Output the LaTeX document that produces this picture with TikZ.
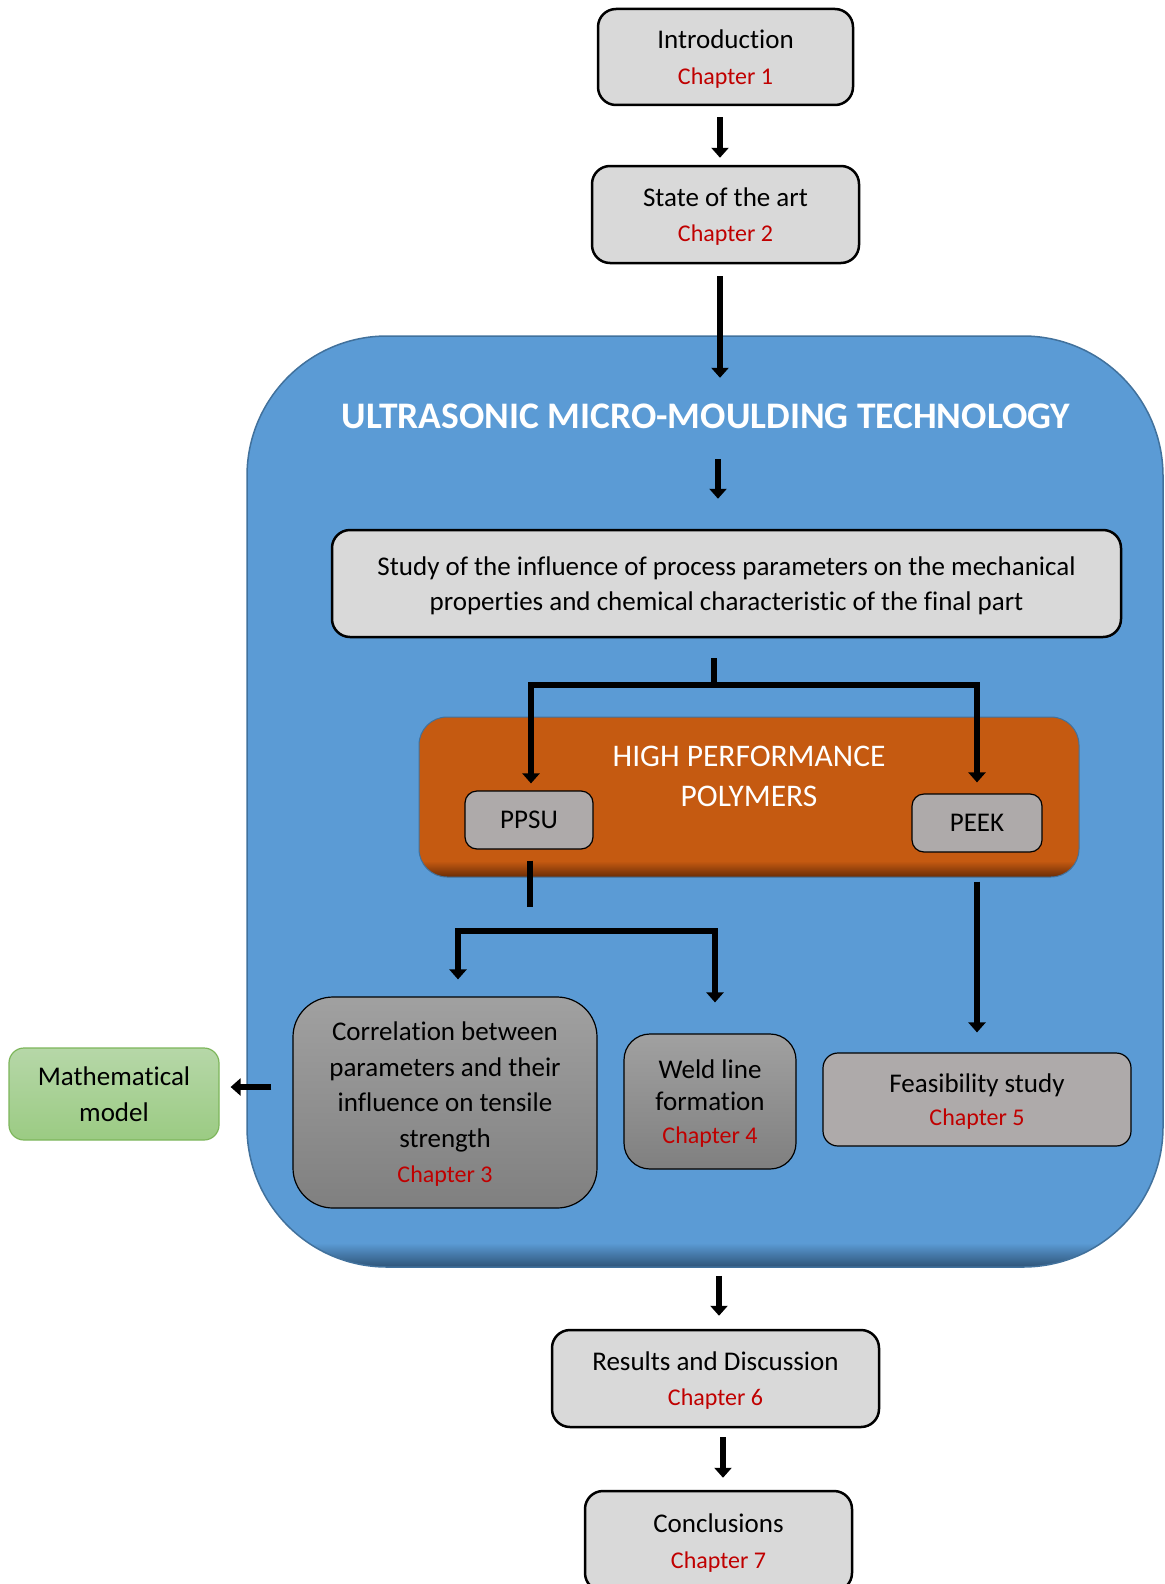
\documentclass[tikz,border=0pt]{standalone}
\usepackage{fontspec}
\setmainfont{Carlito}[Ligatures=NoCommon]
\usepackage{tikz}
\usetikzlibrary{arrows.meta,positioning,calc}
\usepackage{xcolor}
\definecolor{chapred}{HTML}{C00000}
\definecolor{boxgray}{HTML}{D9D9D9}
\definecolor{polygray}{HTML}{AEAAAA}
\definecolor{umtblue}{HTML}{5B9BD5}
\definecolor{umtedge}{HTML}{41719C}
\definecolor{umtdark}{HTML}{2E5478}
\definecolor{hpporange}{HTML}{C55A11}
\definecolor{hppdark}{HTML}{6A2C06}
\definecolor{mathtop}{HTML}{B6D7A8}
\definecolor{mathbot}{HTML}{9BCB83}
\definecolor{mathedge}{HTML}{7DB65B}
\pgfdeclareverticalshading{umtshade}{100bp}{color(0bp)=(umtdark); color(25bp)=(umtdark); color(26.3bp)=(umtblue); color(100bp)=(umtblue)}
\pgfdeclareverticalshading{hppshade}{100bp}{color(0bp)=(hppdark); color(25bp)=(hppdark); color(30bp)=(hpporange); color(100bp)=(hpporange)}
\newcommand{\chapnum}[1]{{\color{chapred}\fontsize{24}{30}\selectfont Chapter #1}}

\begin{document}
\begin{tikzpicture}[x=1pt,y=1pt,every node/.style={font=\fontsize{27}{35.5}\selectfont,align=center,inner sep=0pt,text depth=0pt},
  chapbox/.style={draw=black,line width=2.5pt,fill=boxgray,rounded corners=18pt},
  polybox/.style={draw=black,line width=1.2pt,fill=polygray,rounded corners=12pt},
  darkbox/.style={draw=black,line width=1.2pt,top color=black!37,bottom color=black!50},
  link/.style={line width=6.5pt,line join=miter},
  arrow/.style={link,-{Triangle[width=17pt,length=10pt]}}]
\useasboundingbox (0,0) rectangle (1164,-1584);
% big technology frame
\node[draw=umtedge,line width=1.5pt,shade,shading=umtshade,rounded corners=140pt,minimum width=916pt,minimum height=931pt] (umt) at (705,-801.5) {};
\node[font=\bfseries\fontsize{37.5}{42}\selectfont,text=white,text height=24pt] (umttitle) at (706,-416) {ULTRASONIC MICRO-MOULDING TECHNOLOGY};
% polymers frame
\node[draw=umtedge,line width=1pt,shade,shading=hppshade,rounded corners=28pt,minimum width=660pt,minimum height=160pt] (hpp) at (749,-797) {};
\node[text=white,font=\fontsize{31.5}{39.5}\selectfont] (hpptitle) at (749,-776.5) {HIGH PERFORMANCE\\POLYMERS};
% chapters
\node[chapbox,minimum width=255pt,minimum height=96pt] (intro) at (725.5,-57) {Introduction\\\chapnum{1}};
\node[chapbox,minimum width=267pt,minimum height=97pt] (state) at (725.5,-214.5) {State of the art\\\chapnum{2}};
\node[chapbox,minimum width=789pt,minimum height=107pt] (study) at (726.5,-583.5) {Study of the influence of process parameters on the mechanical\\properties and chemical characteristic of the final part};
\node[polybox,minimum width=128pt,minimum height=58pt] (ppsu) at (529,-820) {PPSU};
\node[polybox,minimum width=130pt,minimum height=58pt] (peek) at (977,-823) {PEEK};
\node[darkbox,rounded corners=40pt,minimum width=304pt,minimum height=211pt] (corr) at (445,-1102.5) {Correlation between\\parameters and their\\influence on tensile\\strength\\\chapnum{3}};
\node[darkbox,rounded corners=26pt,minimum width=172pt,minimum height=135pt,font=\fontsize{27}{32.5}\selectfont] (weld) at (710,-1101.5) {Weld line\\formation\\\chapnum{4}};
\node[polybox,rounded corners=15pt,minimum width=308pt,minimum height=93pt,font=\fontsize{27}{32.5}\selectfont] (feas) at (977,-1099.5) {Feasibility study\\\chapnum{5}};
\node[draw=mathedge,line width=1.2pt,top color=mathtop,bottom color=mathbot,rounded corners=15pt,minimum width=210pt,minimum height=92pt] (math) at (114,-1094) {Mathematical\\model};
\node[chapbox,minimum width=327pt,minimum height=97pt] (results) at (715.5,-1378.5) {Results and Discussion\\\chapnum{6}};
\node[chapbox,minimum width=267pt,minimum height=100pt] (concl) at (718.5,-1541) {Conclusions\\\chapnum{7}};
% main flow
\draw[arrow] ([xshift=-5.5pt,yshift=-11pt]intro.south) -- ([xshift=-5.5pt,yshift=7pt]state.north);
\draw[arrow] ([xshift=-5.5pt,yshift=-12pt]state.south) -- ([xshift=14pt,yshift=26pt]umttitle.north);
\draw[arrow] ([xshift=12pt,yshift=-31pt]umttitle.south) -- ([xshift=-8.5pt,yshift=30pt]study.north);
% split to polymers
\coordinate (split1) at (714,-685);
\draw[link] ([xshift=-12.5pt,yshift=-20pt]study.south) -- (split1);
\draw[arrow] (split1) -| ([xshift=2pt,yshift=7pt]ppsu.north);
\draw[arrow] (split1) -| ([yshift=11pt]peek.north);
% PPSU studies
\coordinate (ppsustub) at (530,-907);
\draw[link] ([xshift=1pt,yshift=-11pt]ppsu.south) -- (ppsustub);
\coordinate (split2) at (586,-931);
\draw[arrow] (split2) -| ([xshift=13pt,yshift=17pt]corr.north);
\draw[arrow] (split2) -| ([xshift=5pt,yshift=31pt]weld.north);
% PEEK study
\draw[arrow] ([yshift=-29pt]peek.south) -- ([yshift=20pt]feas.north);
\draw[arrow] ([xshift=-21pt,yshift=15.5pt]corr.west) -- ([xshift=11pt,yshift=7pt]math.east);
% out of the frame
\draw[arrow] ([xshift=14pt,yshift=-8pt]umt.south) -- ([xshift=3.5pt,yshift=13pt]results.north);
\draw[arrow] ([xshift=7.5pt,yshift=-9pt]results.south) -- ([xshift=4.5pt,yshift=12pt]concl.north);
\end{tikzpicture}
\end{document}
